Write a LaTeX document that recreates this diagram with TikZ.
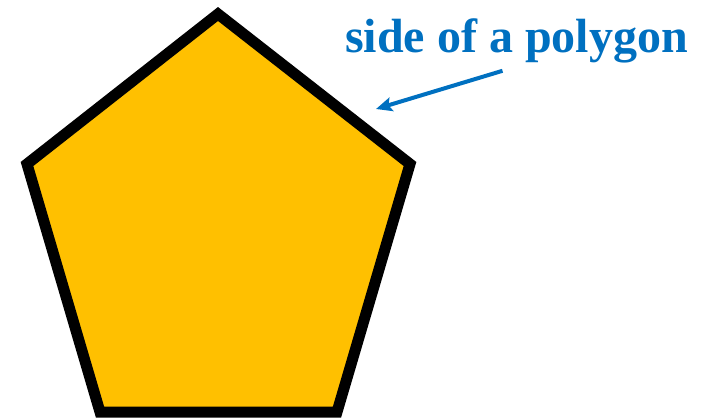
\documentclass[tikz,border=0pt]{standalone}
\usepackage{fontspec}
\setmainfont{Liberation Serif}
\usepackage{xcolor}
\usepackage{tikz}
\usetikzlibrary{calc}
\usetikzlibrary{arrows.meta, positioning}

\definecolor{polyfill}{HTML}{FFC000}
\definecolor{labelblue}{HTML}{0070C0}

\begin{document}
\begin{tikzpicture}[x=1pt,y=-1pt]
  \useasboundingbox (0,0) rectangle (711,418);
  \clip (0,0) rectangle (711,418);

  \coordinate (P1) at (218,14);
  \coordinate (P2) at (410,164);
  \coordinate (P3) at (337,412);
  \coordinate (P4) at (100,412);
  \coordinate (P5) at (27,164);
  \draw[line width=11pt, line join=miter, fill=polyfill]
    (P1)--(P2)--(P3)--(P4)--(P5)--cycle;

  \node[anchor=base, text=labelblue, font=\bfseries\fontsize{48}{52}\selectfont,
        inner sep=0pt] (label) at (516.5,52) {side of a polygon};

  \coordinate (tip) at (376,109);
  \draw[labelblue, line width=4pt, -{Stealth[length=16pt,width=14pt,inset=3pt]}]
    ([xshift=-14pt,yshift=-8pt]label.south) -- (tip);
\end{tikzpicture}
\end{document}
